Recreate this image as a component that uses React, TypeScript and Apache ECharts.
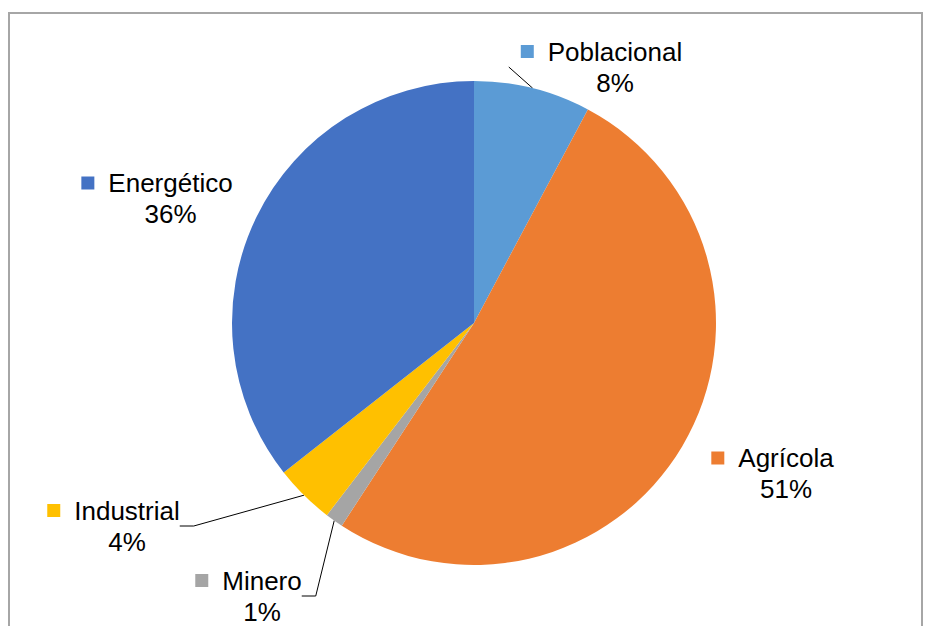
import React, { useEffect, useRef } from "react";
import * as echarts from "echarts";

const categories = ["Poblacional", "Agrícola", "Minero", "Industrial", "Energético"];
const values = [7.8, 51.4, 1.2, 4.0, 35.6];
const colors = ["#5B9BD5", "#ED7D31", "#A5A5A5", "#FFC000", "#4472C4"];
const showLine = [true, false, true, true, false];
const lineLength2 = [0, 0, 14, 14, 0];
const labelPadLeft = [12, 0, 0, 0, 0];
const labelCenters: number[][] = [
  [601.5, 67],
  [772.5, 473.5],
  [248.5, 596],
  [113.5, 526],
  [157, 198.5],
];

const FONT = "'Liberation Sans', Arial, sans-serif";

export default function App() {
  const ref = useRef<HTMLDivElement>(null);
  useEffect(() => {
    const chart = echarts.init(ref.current!, null, { renderer: "svg" });
    const base = { lineHeight: 31, align: "center", fontSize: 26, fontFamily: FONT, color: "#000" };
    const rich: any = {
      g: { ...base, width: 14 },
      sp: { ...base, width: 27 },
      n: { ...base },
      p: { ...base },
    };
    colors.forEach((c, i) => {
      rich["sq" + i] = { ...base, width: 13, height: 13, backgroundColor: c };
    });
    const data = categories.map((name, i) => ({
      name,
      value: values[i],
      itemStyle: { color: colors[i] },
      label: { padding: [0, 0, 0, labelPadLeft[i]] },
      labelLine: { show: showLine[i], length2: lineLength2[i] },
    }));
    chart.setOption({
      animation: false,
      backgroundColor: "#fff",
      graphic: [
        {
          type: "rect",
          silent: true,
          z: -1,
          shape: { x: 9, y: 13, width: 913, height: 660 },
          style: { fill: "none", stroke: "#a6a6a6", lineWidth: 2 },
        },
      ],
      series: [
        {
          type: "pie",
          center: [474, 323],
          radius: 242,
          startAngle: 90,
          clockwise: true,
          avoidLabelOverlap: false,
          data,
          label: {
            show: true,
            position: "outside",
            fontSize: 26,
            fontFamily: FONT,
            color: "#000",
            lineHeight: 31,
            formatter: (p: any) =>
              `{sq${p.dataIndex}| }{g| }{n|${p.name}}\n{sp| }{p|${Math.round(p.percent)}%}`,
            rich,
          },
          labelLine: {
            show: true,
            length: 15,
            length2: 14,
            smooth: false,
            lineStyle: { color: "#000", width: 1 },
          },
          labelLayout: (params: any) => {
            const i = params.dataIndex;
            const c = labelCenters[i];
            return { x: c[0] - labelPadLeft[i] / 2, y: c[1], align: "center", verticalAlign: "middle" };
          },
          emphasis: { disabled: true },
        },
      ],
    });
    return () => chart.dispose();
  }, []);
  return (
    <div
      ref={ref}
      style={{ position: "absolute", left: 0, top: 0, width: 925, height: 626, background: "#fff" }}
    />
  );
}
